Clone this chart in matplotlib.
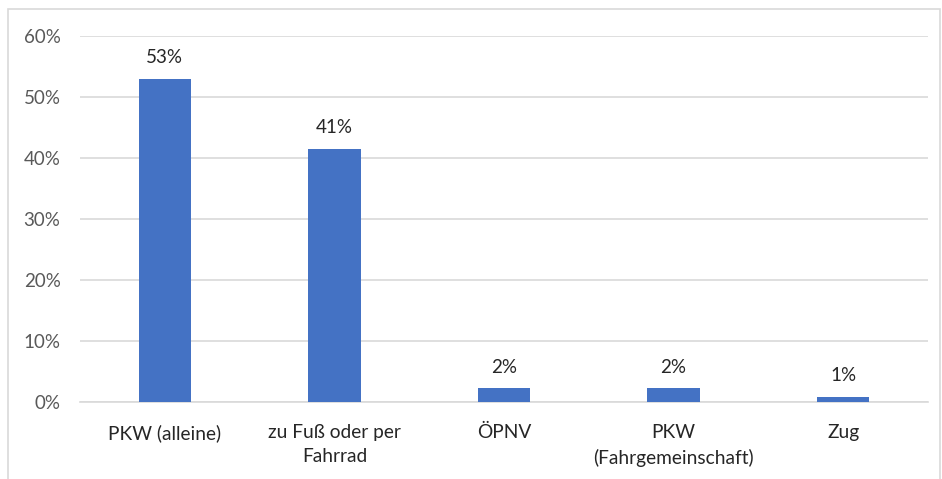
import matplotlib.pyplot as plt
from matplotlib.patches import Rectangle
from matplotlib.ticker import PercentFormatter

# Modal split values (share in %)
categories = ["PKW (alleine)", "zu Fuß oder per\nFahrrad", "ÖPNV", "PKW\n(Fahrgemeinschaft)", "Zug"]
shares = [53.0, 41.5, 2.25, 2.25, 0.9]
value_labels = ["53%", "41%", "2%", "2%", "1%"]

plt.rcParams['font.family'] = ['Lato', 'DejaVu Sans']

fig = plt.figure(figsize=(9.42, 4.79), dpi=100)
ax = fig.add_axes([80 / 942, 77 / 479, 848 / 942, 366 / 479])

# chart frame like the office export
fig.patches.append(Rectangle((8 / 942, -0.05), 932 / 942, 1 - 9 / 479 + 0.05,
                             transform=fig.transFigure, fill=False,
                             edgecolor='#d9d9d9', linewidth=1.2))

x = range(len(categories))
ax.bar(x, shares, width=0.31, color='#4472C4', zorder=3)

ax.set_ylim(0, 60)
ax.set_xlim(-0.5, len(categories) - 0.5)
ax.set_yticks(range(0, 61, 10))
ax.yaxis.set_major_formatter(PercentFormatter(decimals=0))
ax.grid(axis='y', color='#d9d9d9', linewidth=1.2, zorder=0)

for side in ['top', 'right', 'left']:
    ax.spines[side].set_visible(False)
ax.spines['bottom'].set_color('#d9d9d9')
ax.spines['bottom'].set_linewidth(1.2)

ax.tick_params(axis='y', length=0, pad=14, labelsize=13.5, labelcolor='#595959')
ax.tick_params(axis='x', length=0, pad=16, labelsize=13.8, labelcolor='#262626')
ax.set_xticks(list(x))
ax.set_xticklabels(categories, linespacing=1.5)

for i, val in enumerate(shares):
    ax.annotate(value_labels[i], (i, val), textcoords="offset points",
                xytext=(0, 9), ha='center', va='bottom',
                fontsize=13.5, color='#262626')

fig.savefig("out.png", dpi=100)
